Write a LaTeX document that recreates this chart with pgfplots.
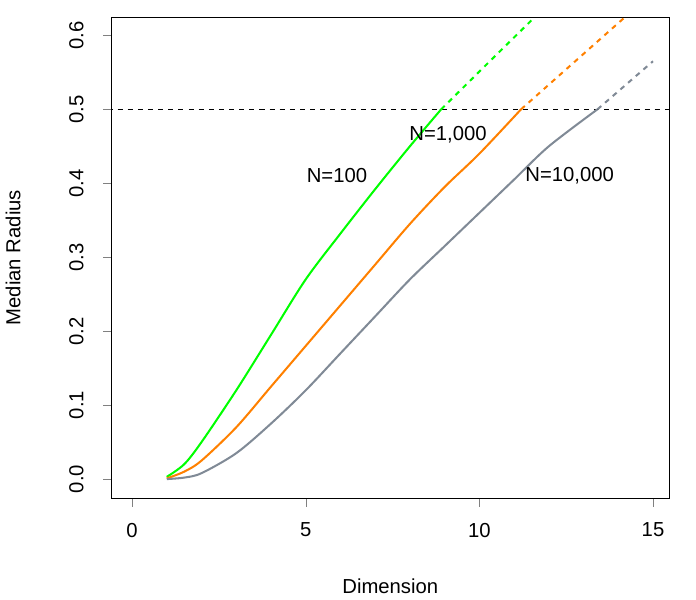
\documentclass[border=0pt]{standalone}
\usepackage{pgfplots}
\pgfplotsset{compat=1.18}
\usepackage{fontspec}
\setmainfont{Liberation Sans}
\definecolor{slate}{RGB}{128,138,150}
\begin{document}
\begin{tikzpicture}
\begin{axis}[name=ax, scale only axis, width=330pt, height=285pt,
 xmin=-0.59, xmax=15.46, ymin=-0.026, ymax=0.625,
 xtick={0,5,10,15}, ytick={0,0.1,0.2,0.3,0.4,0.5,0.6},
 yticklabels={0.0,0.1,0.2,0.3,0.4,0.5,0.6},
 tick align=outside, xtick pos=bottom, ytick pos=left,
 major tick length=5pt,
 /pgf/number format/assume math mode=true,
 tick label style={font=\large},
 yticklabel style={rotate=90, anchor=south, yshift=8pt},
 xticklabel style={yshift=-6pt},
 xlabel={Dimension}, ylabel={Median Radius},
 label style={font=\large},
 xlabel style={yshift=-18pt}, ylabel style={yshift=22pt},
 clip=true]
\addplot[black, dashed, thick] coordinates {(-1,0.5) (16,0.5)};
\addplot[green, line width=1.2pt, smooth] coordinates {(1,0.003)(1.5,0.02)(2,0.05)(3,0.12)(4,0.195)(5,0.27)(6,0.332)(7,0.392)(8,0.45)(8.9,0.5)};
\addplot[green, line width=1.2pt, dashed] coordinates {(8.9,0.5)(10.3,0.565)(11.6,0.625)};
\addplot[orange, line width=1.2pt, smooth] coordinates {(1,0.001)(1.5,0.01)(2,0.025)(3,0.07)(4,0.125)(5,0.18)(6,0.235)(7,0.29)(8,0.345)(9,0.395)(10,0.44)(11.2,0.5)};
\addplot[orange, line width=1.2pt, dashed] coordinates {(11.2,0.5)(14.2,0.625)};
\addplot[slate, line width=1.2pt, smooth] coordinates {(1,0)(1.5,0.002)(2,0.008)(3,0.035)(4,0.075)(5,0.12)(6,0.17)(7,0.22)(8,0.27)(9,0.315)(10,0.36)(11,0.405)(12,0.45)(13.4,0.5)};
\addplot[slate, line width=1.2pt, dashed] coordinates {(13.4,0.5)(15,0.565)};
\node[font=\large] at (axis cs:5.9,0.41) {N=100};
\node[font=\large] at (axis cs:9.1,0.465) {N=1,000};
\node[font=\large] at (axis cs:12.6,0.41) {N=10,000};
\end{axis}
\path ([xshift=16pt,yshift=10pt]ax.north east);
\end{tikzpicture}
\end{document}
